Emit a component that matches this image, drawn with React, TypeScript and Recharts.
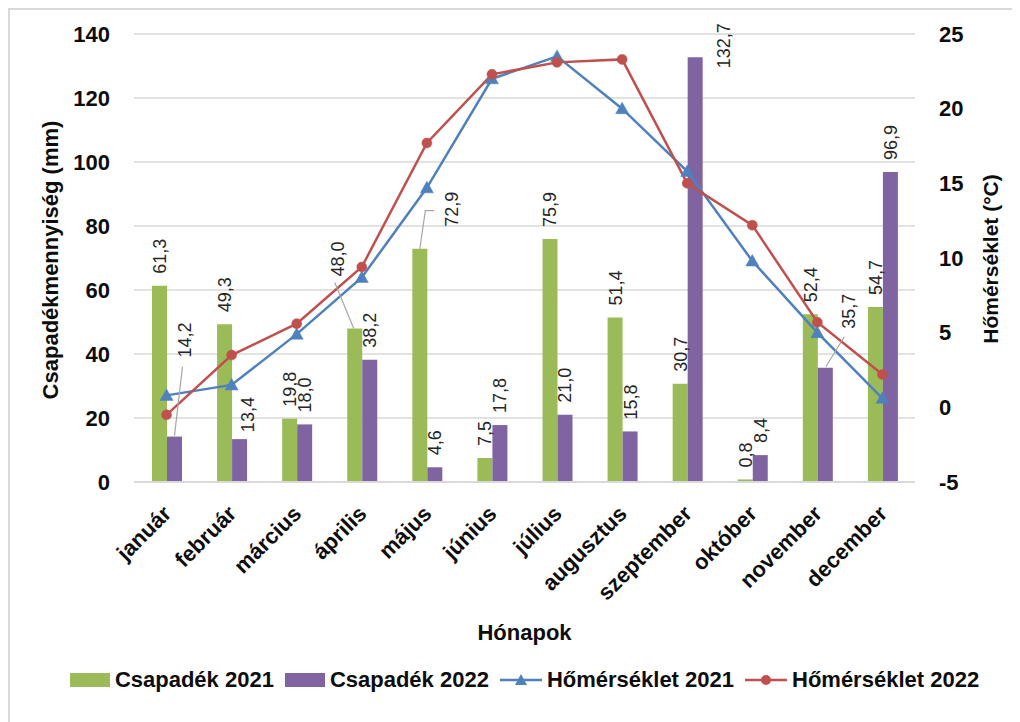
import React from 'react';
import {
  ComposedChart,
  Bar,
  Line,
  XAxis,
  YAxis,
  CartesianGrid,
  Legend,
  LabelList,
} from 'recharts';

// ---- data ----
const months = [
  'január', 'február', 'március', 'április', 'május', 'június',
  'július', 'augusztus', 'szeptember', 'október', 'november', 'december',
];
const precip2021 = [61.3, 49.3, 19.8, 48.0, 72.9, 7.5, 75.9, 51.4, 30.7, 0.8, 52.4, 54.7];
const precip2022 = [14.2, 13.4, 18.0, 38.2, 4.6, 17.8, 21.0, 15.8, 132.7, 8.4, 35.7, 96.9];
const temp2021 = [0.8, 1.5, 4.9, 8.7, 14.7, 22.0, 23.5, 20.0, 15.8, 9.8, 5.0, 0.6];
const temp2022 = [-0.5, 3.5, 5.6, 9.4, 17.7, 22.3, 23.1, 23.3, 15.0, 12.2, 5.7, 2.2];
const precipTicks = [0, 20, 40, 60, 80, 100, 120, 140];
const tempTicks = [-5, 0, 5, 10, 15, 20, 25];
const seriesNames = ['Csapadék 2021', 'Csapadék 2022', 'Hőmérséklet 2021', 'Hőmérséklet 2022'];

const data = months.map((m, i) => ({
  month: m,
  p21: precip2021[i],
  p22: precip2022[i],
  t21: temp2021[i],
  t22: temp2022[i],
}));

// ---- style ----
const FONT = '"Liberation Sans", Arial, sans-serif';
const GREEN = '#9BBB59';
const PURPLE = '#8064A2';
const BLUE = '#4F81BD';
const RED = '#C0504D';
const TEXT = '#0d0d0d';
const GRID = '#d9d9d9';

const fmt = (v: number) => Number(v).toFixed(1).replace('.', ',');

type Nudge = { dx: number; dy: number; leader?: [number, number][] };
const NUDGES: Record<string, Record<number, Nudge>> = {
  p21: {
    3: { dx: -17, dy: -40, leader: [[-1, 0], [-20, -46]] },
    4: { dx: 32, dy: -10, leader: [[0, 0], [5.5, -38], [14.5, -38]] },
  },
  p22: {
    0: { dx: 10, dy: -67, leader: [[0, -1], [8, -70]] },
    1: { dx: 8, dy: 5 },
    8: { dx: 28, dy: 23 },
    10: { dx: 23, dy: -27, leader: [[0.5, -1], [19, -31]] },
  },
};

const makeBarLabel = (key: string) => (props: any) => {
  const { x, y, width, value, index } = props;
  const cx = Number(x) + Number(width) / 2;
  const top = Number(y);
  const n: Nudge = (NUDGES[key] && NUDGES[key][index]) || { dx: 0, dy: 0 };
  const tx = cx + n.dx + 6.5;
  const ty = top - 12 + n.dy;
  return (
    <g key={`lbl-${key}-${index}`}>
      {n.leader && (
        <polyline
          points={n.leader.map(([a, b]) => `${cx + a},${top + b}`).join(' ')}
          fill="none"
          stroke="#a6a6a6"
          strokeWidth={1.2}
        />
      )}
      <text
        x={tx}
        y={ty}
        transform={`rotate(-90, ${tx}, ${ty})`}
        textAnchor="start"
        fontSize={18}
        fontFamily={FONT}
        fill="#262626"
      >
        {fmt(value)}
      </text>
    </g>
  );
};

const XTick = (props: any) => {
  const { x, y, payload } = props;
  const ax = Number(x) + 6;
  const ay = Number(y) + 33;
  return (
    <text
      x={ax}
      y={ay}
      transform={`rotate(-45, ${ax}, ${ay})`}
      textAnchor="end"
      fontSize={22}
      fontWeight="bold"
      fontFamily={FONT}
      fill={TEXT}
    >
      {payload.value}
    </text>
  );
};

const Triangle = (props: any) => {
  const { cx, cy, index } = props;
  if (cx == null || cy == null) return <g key={`tri-${index}`} />;
  return (
    <path
      key={`tri-${index}`}
      d={`M${cx},${cy - 6.5} L${cx + 6.5},${cy + 5} L${cx - 6.5},${cy + 5} Z`}
      fill={BLUE}
      stroke={BLUE}
      strokeWidth={0.5}
    />
  );
};

const LeftTitle = (props: any) => {
  const vb = props.viewBox || { x: 0, y: 26, width: 126, height: 448 };
  const x = vb.x + 42;
  const y = vb.y + vb.height / 2 + 2;
  return (
    <text
      x={x}
      y={y}
      transform={`rotate(-90, ${x}, ${y})`}
      textAnchor="middle"
      dominantBaseline="central"
      fontSize={22}
      fontWeight="bold"
      fontFamily={FONT}
      fill={TEXT}
    >
      Csapadékmennyiség (mm)
    </text>
  );
};

const RightTitle = (props: any) => {
  const vb = props.viewBox || { x: 907, y: 26, width: 105, height: 448 };
  const x = vb.x + 75;
  const y = vb.y + vb.height / 2 + 1;
  return (
    <text
      x={x}
      y={y}
      transform={`rotate(-90, ${x}, ${y})`}
      textAnchor="middle"
      dominantBaseline="central"
      fontSize={21}
      fontWeight="bold"
      fontFamily={FONT}
      fill={TEXT}
    >
      Hőmérséklet (°C)
    </text>
  );
};

const BottomTitle = (props: any) => {
  const vb = props.viewBox || { x: 126, y: 474, width: 781, height: 178 };
  return (
    <text
      x={vb.x + vb.width / 2}
      y={vb.y + 150}
      textAnchor="middle"
      dominantBaseline="central"
      fontSize={22}
      fontWeight="bold"
      fontFamily={FONT}
      fill={TEXT}
    >
      Hónapok
    </text>
  );
};

const LegendContent = () => {
  const textStyle: React.CSSProperties = { marginRight: 11, whiteSpace: 'nowrap' };
  return (
    <div
      style={{
        display: 'flex',
        justifyContent: 'center',
        alignItems: 'center',
        height: 40,
        paddingLeft: 21,
        fontFamily: FONT,
        fontSize: 22,
        fontWeight: 'bold',
        color: TEXT,
      }}
    >
      <span style={{ display: 'inline-block', width: 40, height: 14, background: GREEN, marginRight: 5 }} />
      <span style={textStyle}>{seriesNames[0]}</span>
      <span style={{ display: 'inline-block', width: 40, height: 14, background: PURPLE, marginRight: 5 }} />
      <span style={textStyle}>{seriesNames[1]}</span>
      <svg width={42} height={16} style={{ marginRight: 5 }}>
        <line x1={0} y1={8} x2={42} y2={8} stroke={BLUE} strokeWidth={2.5} />
        <path d="M21,2 L27,13 L15,13 Z" fill={BLUE} />
      </svg>
      <span style={textStyle}>{seriesNames[2]}</span>
      <svg width={42} height={16} style={{ marginRight: 5 }}>
        <line x1={0} y1={8} x2={42} y2={8} stroke={RED} strokeWidth={2.5} />
        <circle cx={21} cy={8} r={5} fill={RED} />
      </svg>
      <span style={{ whiteSpace: 'nowrap' }}>{seriesNames[3]}</span>
    </div>
  );
};

export default function App() {
  return (
    <div
      style={{
        width: 1012,
        height: 714,
        boxShadow: `inset 2px 2px 0 ${GRID}`,
        background: '#fff',
      }}
    >
      <ComposedChart
        width={1012}
        height={714}
        data={data}
        margin={{ top: 26, right: 0, bottom: 22, left: 0 }}
        barGap={0}
      >
        <CartesianGrid yAxisId="left" vertical={false} stroke={GRID} strokeWidth={1.3} />
        <XAxis
          dataKey="month"
          interval={0}
          height={178}
          tickLine={false}
          tickSize={0}
          tickMargin={0}
          axisLine={{ stroke: GRID, strokeWidth: 2 }}
          tick={<XTick />}
          label={<BottomTitle />}
        />
        <YAxis
          yAxisId="left"
          orientation="left"
          width={126}
          domain={[0, 140]}
          ticks={precipTicks}
          axisLine={false}
          tickLine={false}
          tickSize={0}
          tickMargin={24}
          tick={{ fontSize: 22, fontWeight: 'bold', fill: TEXT, fontFamily: FONT }}
          label={<LeftTitle />}
        />
        <YAxis
          yAxisId="right"
          orientation="right"
          width={105}
          domain={[-5, 25]}
          ticks={tempTicks}
          axisLine={false}
          tickLine={false}
          tickSize={0}
          tickMargin={24}
          tick={{ fontSize: 22, fontWeight: 'bold', fill: TEXT, fontFamily: FONT }}
          label={<RightTitle />}
        />
        <Legend verticalAlign="bottom" content={<LegendContent />} />
        <Bar yAxisId="left" dataKey="p21" name={seriesNames[0]} fill={GREEN} barSize={15} isAnimationActive={false}>
          <LabelList dataKey="p21" content={makeBarLabel('p21')} />
        </Bar>
        <Bar yAxisId="left" dataKey="p22" name={seriesNames[1]} fill={PURPLE} barSize={15} isAnimationActive={false}>
          <LabelList dataKey="p22" content={makeBarLabel('p22')} />
        </Bar>
        <Line
          yAxisId="right"
          dataKey="t21"
          name={seriesNames[2]}
          stroke={BLUE}
          strokeWidth={2.5}
          dot={<Triangle />}
          activeDot={false}
          isAnimationActive={false}
        />
        <Line
          yAxisId="right"
          dataKey="t22"
          name={seriesNames[3]}
          stroke={RED}
          strokeWidth={2.5}
          dot={{ r: 5, fill: RED, stroke: RED, strokeWidth: 0.5 }}
          activeDot={false}
          isAnimationActive={false}
        />
      </ComposedChart>
    </div>
  );
}
